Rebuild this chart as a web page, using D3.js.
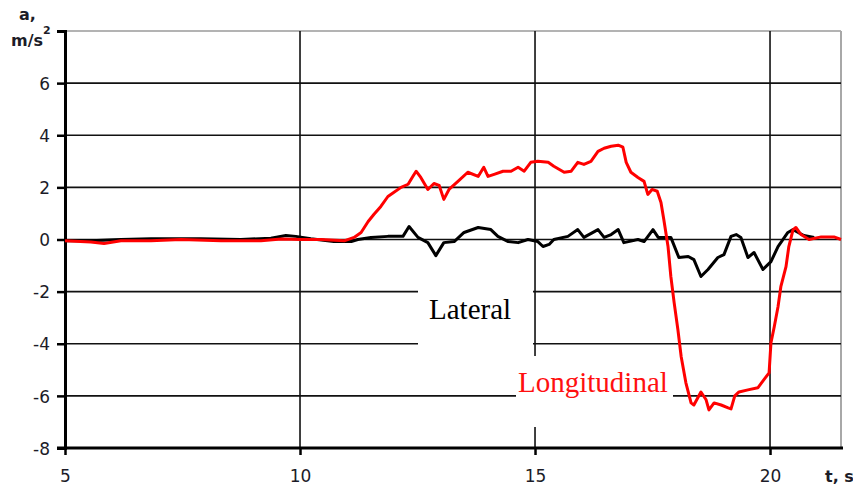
<!DOCTYPE html>
<html>
<head>
<meta charset="utf-8">
<script src="https://cdn.jsdelivr.net/npm/d3@7"></script>
<style>
  html, body { margin: 0; padding: 0; background: #fff; }
  svg { display: block; }
  .tick-label { font-family: "DejaVu Sans", Verdana, sans-serif; font-size: 17px; fill: #1c1c28; }
  .axis-title { font-family: "DejaVu Sans", Verdana, sans-serif; font-size: 16px; font-weight: bold; fill: #1c1c28; }
  .series-label { font-family: "Liberation Serif", "Times New Roman", serif; font-size: 29px; }
</style>
</head>
<body>
<svg id="chart" width="853" height="489"></svg>
<script>
// Time axis (s) and tick values
const xTicks = [5, 10, 15, 20];
const yTicks = [-8, -6, -4, -2, 0, 2, 4, 6, 8];
const yTickLabels = ["-8", "-6", "-4", "-2", "0", "2", "4", "6", ""];

// Lateral acceleration, m/s²
const timeLat = [5.0, 5.55, 6.19, 6.83, 7.89, 8.74, 9.38, 9.70, 9.91, 10.23, 10.72, 11.09, 11.23, 11.51, 11.87, 12.19, 12.32, 12.51, 12.72, 12.89, 13.06, 13.28, 13.49, 13.79, 14.06, 14.21, 14.43, 14.64, 14.85, 15.06, 15.17, 15.30, 15.40, 15.70, 15.91, 16.04, 16.34, 16.47, 16.62, 16.77, 16.89, 17.19, 17.32, 17.51, 17.62, 17.89, 18.06, 18.26, 18.38, 18.53, 18.68, 18.89, 19.02, 19.17, 19.28, 19.38, 19.53, 19.66, 19.85, 20.02, 20.17, 20.38, 20.49, 20.60, 20.72, 20.94];
const lateral = [-0.05, -0.05, 0.0, 0.03, 0.03, 0.0, 0.05, 0.15, 0.12, 0.03, -0.08, -0.08, 0.0, 0.08, 0.12, 0.12, 0.5, 0.08, -0.12, -0.62, -0.12, -0.08, 0.27, 0.46, 0.38, 0.12, -0.08, -0.12, 0.0, -0.08, -0.27, -0.19, 0.0, 0.12, 0.38, 0.08, 0.38, 0.08, 0.19, 0.38, -0.12, 0.0, -0.08, 0.38, 0.08, 0.08, -0.69, -0.65, -0.77, -1.42, -1.15, -0.69, -0.58, 0.12, 0.19, 0.08, -0.69, -0.5, -1.15, -0.85, -0.27, 0.27, 0.38, 0.27, 0.15, 0.08];

// Longitudinal acceleration, m/s²
const timeLon = [5.0, 5.55, 5.83, 6.19, 6.83, 7.47, 8.32, 9.17, 9.6, 10.02, 10.45, 10.94, 11.15, 11.30, 11.45, 11.57, 11.72, 11.87, 12.0, 12.15, 12.30, 12.40, 12.47, 12.57, 12.72, 12.85, 12.96, 13.06, 13.17, 13.36, 13.57, 13.79, 13.91, 14.0, 14.13, 14.32, 14.49, 14.64, 14.77, 14.91, 15.06, 15.28, 15.40, 15.62, 15.77, 15.91, 16.04, 16.19, 16.34, 16.47, 16.62, 16.77, 16.87, 16.94, 17.04, 17.19, 17.32, 17.40, 17.49, 17.60, 17.68, 17.74, 17.83, 17.89, 17.96, 18.04, 18.11, 18.21, 18.32, 18.38, 18.53, 18.64, 18.70, 18.81, 18.96, 19.11, 19.17, 19.25, 19.34, 19.53, 19.74, 19.87, 19.98, 20.02, 20.09, 20.17, 20.23, 20.34, 20.40, 20.49, 20.55, 20.66, 20.83, 21.09, 21.36, 21.51];
const longitudinal = [-0.05, -0.1, -0.15, -0.05, -0.05, 0.0, -0.05, -0.05, 0.02, 0.0, 0.0, -0.05, 0.08, 0.27, 0.69, 0.96, 1.27, 1.65, 1.81, 2.0, 2.12, 2.42, 2.62, 2.38, 1.92, 2.15, 2.08, 1.54, 1.92, 2.23, 2.58, 2.42, 2.77, 2.42, 2.5, 2.62, 2.62, 2.77, 2.62, 2.96, 3.0, 2.96, 2.81, 2.58, 2.62, 2.96, 2.88, 3.0, 3.38, 3.5, 3.58, 3.62, 3.54, 2.96, 2.58, 2.38, 2.23, 1.73, 1.92, 1.85, 1.42, 0.77, -0.27, -1.42, -2.42, -3.46, -4.5, -5.5, -6.27, -6.35, -5.85, -6.15, -6.54, -6.27, -6.35, -6.46, -6.5, -6.0, -5.85, -5.77, -5.69, -5.38, -5.12, -3.96, -3.35, -2.58, -1.81, -1.04, -0.27, 0.38, 0.46, 0.19, 0.0, 0.1, 0.1, 0.0];

const svg = d3.select("#chart");

const x = d3.scaleLinear().domain([5, 21.51]).range([65, 841]);
const y = d3.scaleLinear().domain([-8, 8]).range([448, 31]);

// Plot frame (light top/right borders)
svg.append("line").attr("x1", x(5)).attr("x2", x(21.51)).attr("y1", y(8)).attr("y2", y(8))
  .attr("stroke", "#9a9a9a").attr("stroke-width", 1.5);
svg.append("line").attr("x1", x(21.51)).attr("x2", x(21.51)).attr("y1", y(8)).attr("y2", y(-8))
  .attr("stroke", "#a8a8a8").attr("stroke-width", 2);

// Horizontal grid
svg.append("g").selectAll("line")
  .data(yTicks.filter(v => v > -8 && v < 8))
  .join("line")
  .attr("x1", x(5)).attr("x2", x(21.51))
  .attr("y1", d => y(d)).attr("y2", d => y(d))
  .attr("stroke", "#111").attr("stroke-width", 1.6);

// Vertical grid
svg.append("g").selectAll("line")
  .data(xTicks.filter(v => v > 5))
  .join("line")
  .attr("x1", d => x(d)).attr("x2", d => x(d))
  .attr("y1", y(8)).attr("y2", y(-8))
  .attr("stroke", "#111").attr("stroke-width", 1.6);

// White backing boxes behind the series names
svg.append("rect").attr("x", 418).attr("y", 272).attr("width", 115).attr("height", 80).attr("fill", "#fff");
svg.append("rect").attr("x", 516).attr("y", 356).attr("width", 157).attr("height", 71).attr("fill", "#fff");

// Axes
const yAxis = d3.axisLeft(y).tickValues(yTicks).tickSize(8).tickFormat((d, i) => yTickLabels[i]);
const gy = svg.append("g").attr("transform", `translate(${x(5)},0)`).call(yAxis);
gy.select(".domain").attr("stroke", "#000").attr("stroke-width", 3);
gy.selectAll(".tick line").attr("stroke", "#000").attr("stroke-width", 2.5);
gy.selectAll(".tick text").attr("class", "tick-label").attr("x", -15).attr("dy", "0.36em");

const xAxis = d3.axisBottom(x).tickValues(xTicks).tickSize(7).tickFormat(d3.format("d"));
const gx = svg.append("g").attr("transform", `translate(0,${y(-8)})`).call(xAxis);
gx.select(".domain").attr("stroke", "#000").attr("stroke-width", 3)
  .attr("d", `M${x(5) - 8},0H${x(21.51) + 2}`);
gx.selectAll(".tick line").attr("stroke", "#000").attr("stroke-width", 2.5);
gx.selectAll(".tick text").attr("class", "tick-label").attr("y", 22).attr("dy", "0.71em");

// Series
const line = d3.line().x(d => x(d[0])).y(d => y(d[1]));
svg.append("path")
  .datum(timeLat.map((t, i) => [t, lateral[i]]))
  .attr("d", line).attr("fill", "none").attr("stroke", "#000").attr("stroke-width", 3)
  .attr("stroke-linejoin", "round");
svg.append("path")
  .datum(timeLon.map((t, i) => [t, longitudinal[i]]))
  .attr("d", line).attr("fill", "none").attr("stroke", "#ff0000").attr("stroke-width", 3)
  .attr("stroke-linejoin", "round");

// Series names
svg.append("text").attr("class", "series-label").attr("x", 429).attr("y", 319).attr("fill", "#000").text("Lateral");
svg.append("text").attr("class", "series-label").attr("x", 518).attr("y", 392).attr("fill", "#ff1010").text("Longitudinal");

// Axis titles
svg.append("text").attr("class", "axis-title").attr("x", 19).attr("y", 20).text("a,");
const unit = svg.append("text").attr("class", "axis-title").attr("x", 11).attr("y", 46);
unit.append("tspan").text("m/s");
unit.append("tspan").attr("font-size", "11px").attr("dy", "-12").text("2");
svg.append("text").attr("class", "axis-title").attr("x", 825).attr("y", 482).text("t, s");
</script>
</body>
</html>
